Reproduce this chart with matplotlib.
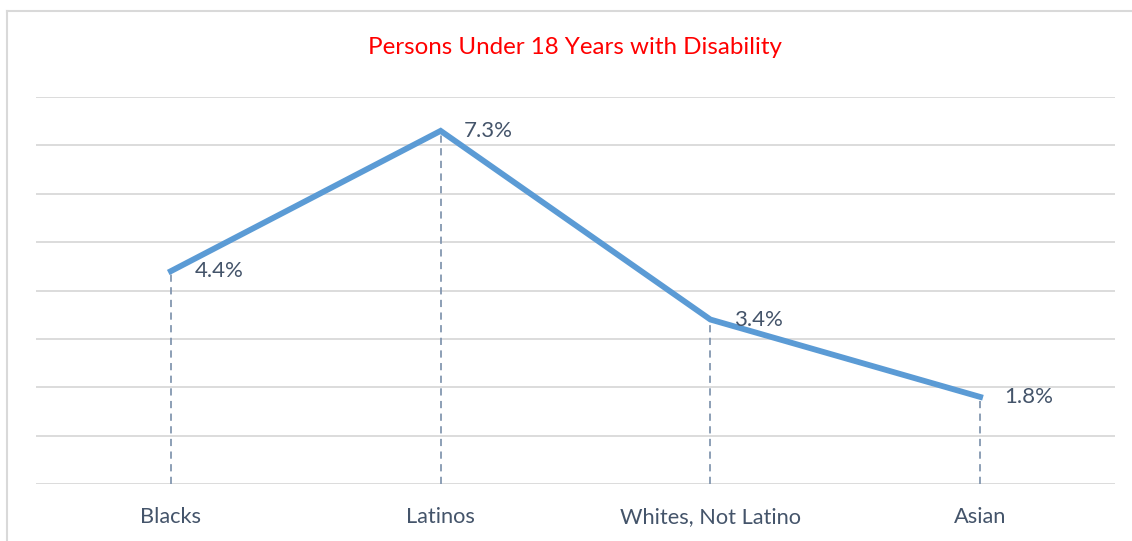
import matplotlib.pyplot as plt
from matplotlib.lines import Line2D

# Persons under 18 with a disability, by group (percent)
groups = ['Blacks', 'Latinos', 'Whites, Not Latino', 'Asian']
pct = [4.4, 7.3, 3.4, 1.8]
labels = ['4.4%', '7.3%', '3.4%', '1.8%']

plt.rcParams['font.family'] = ['Lato', 'DejaVu Sans']

fig = plt.figure(figsize=(11.32, 5.41), dpi=100)
ax = fig.add_axes([36/1132, 1 - 484/541, (1115 - 36)/1132, (484 - 97)/541])

x = list(range(len(groups)))

# drop lines from each point to the baseline
ax.vlines(x, 0, pct, colors='#8497B0', linestyles=(0, (4, 3)), linewidth=1.3, zorder=2)
ax.plot(x, pct, color='#5B9BD5', linewidth=4.2, solid_joinstyle='miter', zorder=3)

for xi, yi, lab in zip(x, pct, labels):
    ax.annotate(lab, (xi, yi), xytext=(17, 0), textcoords='offset points',
                ha='left', va='center', fontsize=16, color='#44546A', zorder=4)

ax.set_xlim(-0.5, 3.5)
ax.set_ylim(0, 8)
ax.set_yticks(range(0, 9))
ax.yaxis.grid(True, color='#D9D9D9', linewidth=1.3)
ax.set_axisbelow(True)
ax.tick_params(axis='y', left=False, labelleft=False)
ax.tick_params(axis='x', length=0, pad=16.5, labelsize=15.7, labelcolor='#44546A')
ax.set_xticks(x)
ax.set_xticklabels(groups)
for s in ax.spines.values():
    s.set_visible(False)

fig.text(575/1132, 1 - 47/541, 'Persons Under 18 Years with Disability',
         ha='center', va='center', fontsize=17.4, color='#FF0000')

# outer chart border (top and left edges)
fig.add_artist(Line2D([7/1132, 7/1132], [0, 1 - 11/541], color='#D9D9D9', linewidth=1.5))
fig.add_artist(Line2D([7/1132, 1], [1 - 11/541, 1 - 11/541], color='#D9D9D9', linewidth=1.5))

fig.savefig('out.png', dpi=100)
